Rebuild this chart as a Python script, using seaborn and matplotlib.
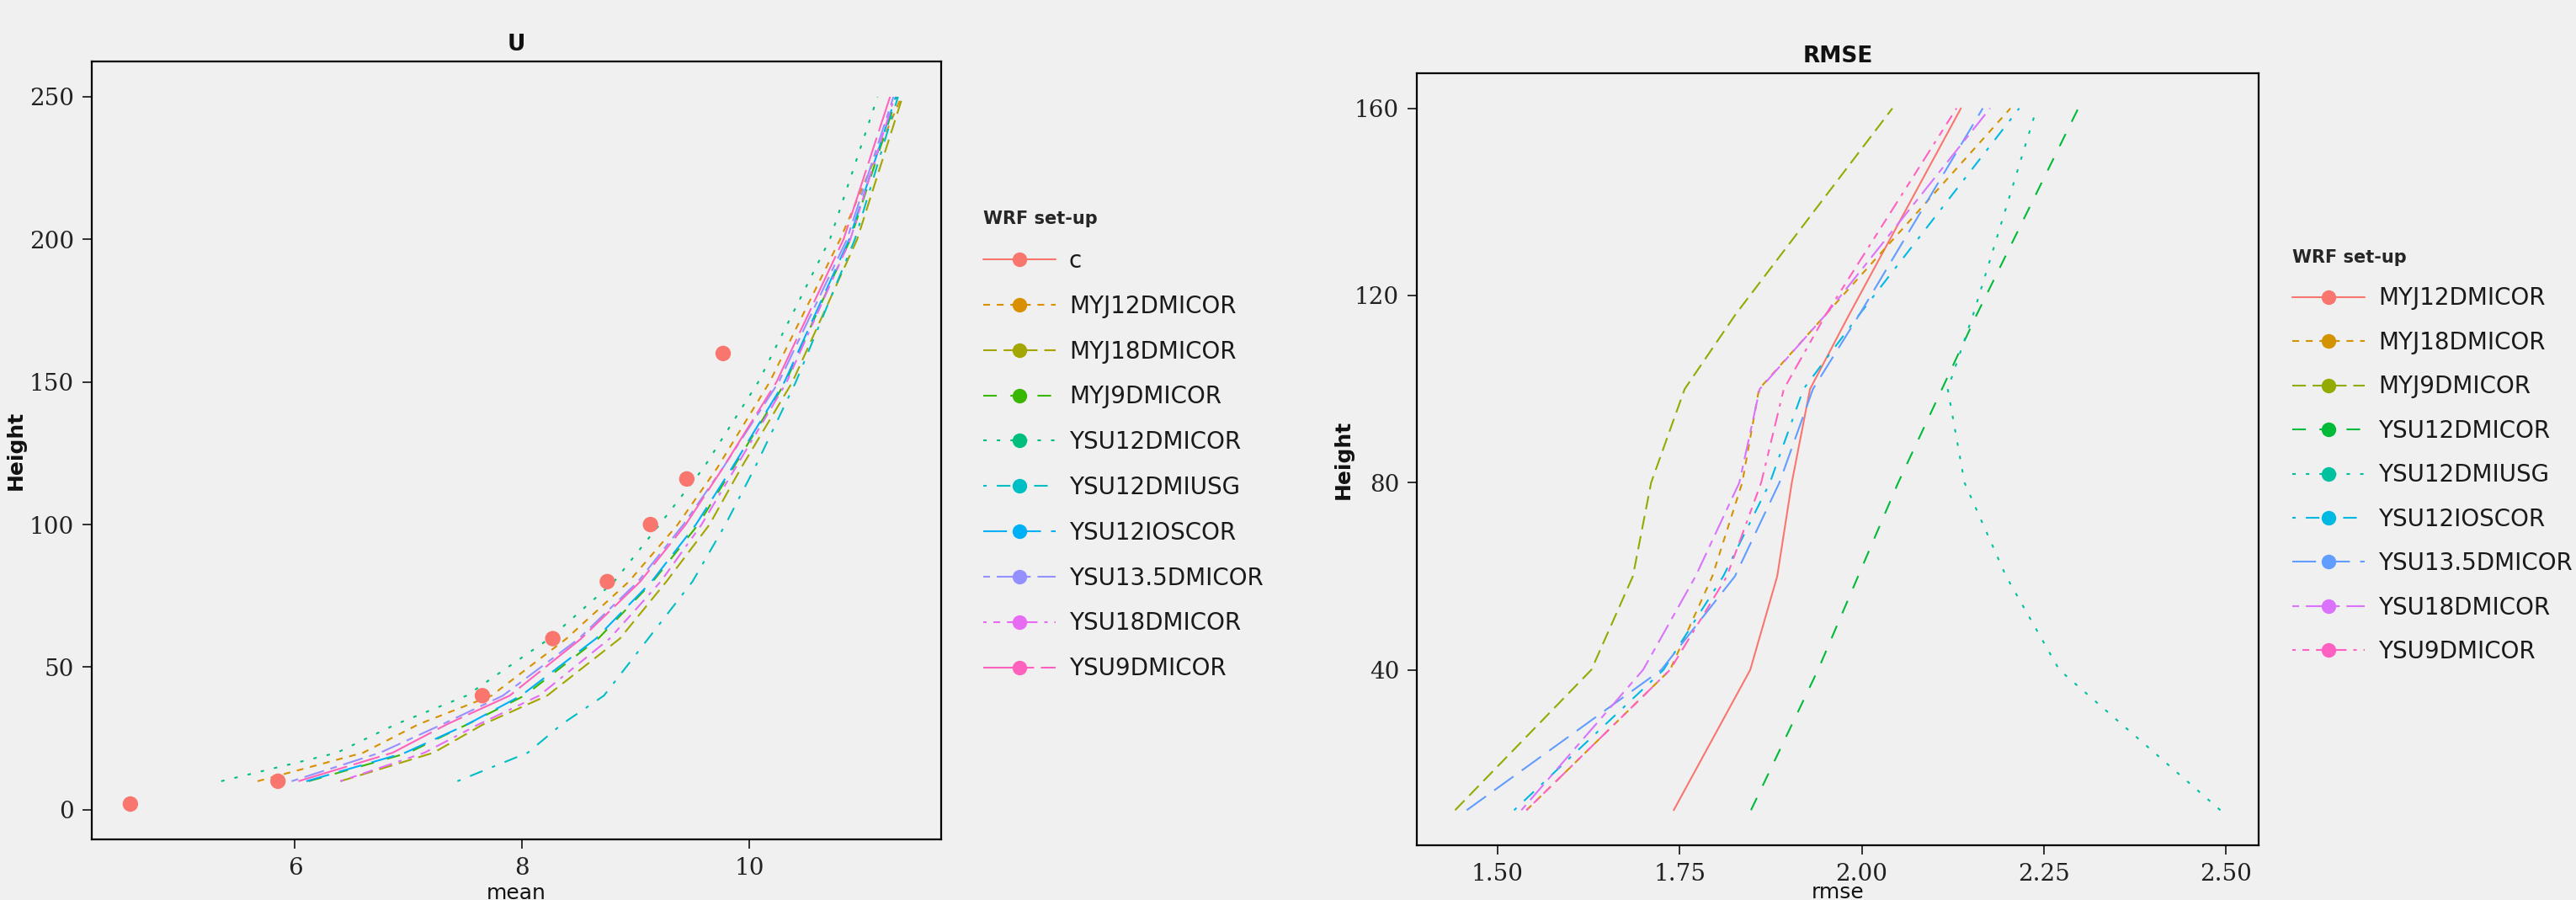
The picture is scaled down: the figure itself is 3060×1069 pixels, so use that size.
import numpy as np
import pandas as pd
import matplotlib
matplotlib.use("Agg")
import matplotlib.pyplot as plt
import seaborn as sns
from matplotlib.lines import Line2D

sns.set_theme(style="ticks")
plt.rcParams["font.family"] = ["DejaVu Sans"]
plt.rcParams["lines.scale_dashes"] = False

BG = "#F0F0F0"

# ---------------- data: panel U ----------------
u_heights = [10, 20, 30, 40, 60, 80, 100, 120, 150, 200, 250]
u_MYJ12DMICOR = [5.67, 6.60, 7.09, 7.73, 8.39, 8.94, 9.37, 9.72, 10.18, 10.80, 11.34]
u_MYJ18DMICOR = [6.40, 7.22, 7.66, 8.22, 8.86, 9.27, 9.65, 9.93, 10.38, 10.95, 11.35]
u_MYJ9DMICOR = [6.12, 7.00, 7.52, 8.02, 8.67, 9.15, 9.55, 9.86, 10.32, 10.89, 11.30]
u_YSU12DMICOR = [5.35, 6.37, 6.89, 7.51, 8.24, 8.81, 9.21, 9.60, 10.08, 10.71, 11.13]
u_YSU12DMIUSG = [7.43, 8.05, 8.35, 8.72, 9.11, 9.50, 9.79, 10.05, 10.41, 10.93, 11.31]
u_YSU12IOSCOR = [6.10, 6.97, 7.52, 7.99, 8.65, 9.14, 9.53, 9.85, 10.31, 10.88, 11.29]
u_YSU135DMICOR = [5.97, 6.75, 7.30, 7.83, 8.50, 9.02, 9.42, 9.77, 10.26, 10.86, 11.27]
u_YSU18DMICOR = [6.40, 7.14, 7.62, 8.15, 8.77, 9.22, 9.58, 9.88, 10.33, 10.89, 11.28]
u_YSU9DMICOR = [6.03, 6.86, 7.34, 7.89, 8.52, 9.04, 9.44, 9.77, 10.24, 10.83, 11.24]

obs_heights = [2, 10, 40, 60, 80, 100, 116, 160]
obs_mean = [4.55, 5.85, 7.65, 8.27, 8.75, 9.13, 9.45, 9.77]

# ---------------- data: panel RMSE ----------------
r_heights = [10, 40, 60, 80, 100, 116, 160]
r_MYJ12DMICOR = [1.742, 1.847, 1.884, 1.904, 1.929, 1.983, 2.136]
r_MYJ18DMICOR = [1.540, 1.737, 1.795, 1.836, 1.859, 1.951, 2.204]
r_MYJ9DMICOR = [1.442, 1.629, 1.686, 1.711, 1.757, 1.827, 2.042]
r_YSU12DMICOR = [1.848, 1.940, 1.995, 2.050, 2.110, 2.158, 2.297]
r_YSU12DMIUSG = [2.492, 2.271, 2.198, 2.141, 2.118, 2.153, 2.240]
r_YSU12IOSCOR = [1.523, 1.728, 1.810, 1.874, 1.920, 1.997, 2.216]
r_YSU135DMICOR = [1.458, 1.725, 1.826, 1.887, 1.933, 1.997, 2.166]
r_YSU18DMICOR = [1.533, 1.700, 1.772, 1.832, 1.860, 1.951, 2.176]
r_YSU9DMICOR = [1.540, 1.737, 1.815, 1.862, 1.893, 1.951, 2.130]

u_labels = ["c", "MYJ12DMICOR", "MYJ18DMICOR", "MYJ9DMICOR", "YSU12DMICOR",
            "YSU12DMIUSG", "YSU12IOSCOR", "YSU13.5DMICOR", "YSU18DMICOR", "YSU9DMICOR"]
r_labels = u_labels[1:]

u_series = [u_MYJ12DMICOR, u_MYJ18DMICOR, u_MYJ9DMICOR, u_YSU12DMICOR, u_YSU12DMIUSG,
            u_YSU12IOSCOR, u_YSU135DMICOR, u_YSU18DMICOR, u_YSU9DMICOR]
r_series = [r_MYJ12DMICOR, r_MYJ18DMICOR, r_MYJ9DMICOR, r_YSU12DMICOR, r_YSU12DMIUSG,
            r_YSU12IOSCOR, r_YSU135DMICOR, r_YSU18DMICOR, r_YSU9DMICOR]

# ggplot default hue palettes
pal10 = ["#F8766D", "#D89000", "#A3A500", "#39B600", "#00BF7D",
         "#00BFC4", "#00B0F6", "#9590FF", "#E76BF3", "#FF62BC"]
pal9 = ["#F8766D", "#D39200", "#93AA00", "#00BA38", "#00C19F",
        "#00B9E3", "#619CFF", "#DB72FB", "#FF61C3"]

# ggplot linetype sequence (hex codes)
lt_codes = ["solid", "22", "42", "44", "13", "1343", "73", "2262", "12223242", "F282"]
UNIT = 2.9  # points per ggplot dash unit


def dash_of(code):
    if code == "solid":
        return ""
    return tuple(int(ch, 16) * UNIT for ch in code)


# long tables
dfU = pd.DataFrame({
    "setup": np.repeat(u_labels[1:], len(u_heights)),
    "Height": np.tile(u_heights, len(u_series)),
    "mean": np.concatenate(u_series),
})
dfR = pd.DataFrame({
    "setup": np.repeat(r_labels, len(r_heights)),
    "Height": np.tile(r_heights, len(r_series)),
    "rmse": np.concatenate(r_series),
})

pal_u = dict(zip(u_labels, pal10))
dash_u = {lab: dash_of(c) for lab, c in zip(u_labels, lt_codes)}
pal_r = dict(zip(r_labels, pal9))
dash_r = {lab: dash_of(c) for lab, c in zip(r_labels, lt_codes)}

W, H = 3060, 1069
fig = plt.figure(figsize=(W / 100, H / 100), dpi=100)
fig.patch.set_facecolor(BG)

ax1 = fig.add_axes([109 / W, 1 - 997 / H, 1009 / W, 924 / H])
ax2 = fig.add_axes([1683 / W, 1 - 1004 / H, 1000 / W, 917 / H])

LW = 1.5
sns.lineplot(data=dfU, x="mean", y="Height", hue="setup", style="setup",
             hue_order=u_labels[1:], style_order=u_labels[1:],
             palette={k: pal_u[k] for k in u_labels[1:]},
             dashes={k: dash_u[k] for k in u_labels[1:]},
             sort=False, estimator=None, errorbar=None, linewidth=LW,
             legend=False, ax=ax1)
sns.scatterplot(x=obs_mean, y=obs_heights, color=pal10[0], s=175,
                edgecolor="none", legend=False, ax=ax1, zorder=5)

sns.lineplot(data=dfR, x="rmse", y="Height", hue="setup", style="setup",
             hue_order=r_labels, style_order=r_labels,
             palette=pal_r, dashes=dash_r,
             sort=False, estimator=None, errorbar=None, linewidth=LW,
             legend=False, ax=ax2)


def expand(lo, hi, f=0.05):
    r = hi - lo
    return lo - f * r, hi + f * r


allU = np.concatenate([np.concatenate(u_series), obs_mean])
ax1.set_xlim(*expand(allU.min(), allU.max()))
ax1.set_ylim(*expand(min(obs_heights + u_heights), max(u_heights)))
allR = np.concatenate(r_series)
ax2.set_xlim(*expand(allR.min(), allR.max()))
ax2.set_ylim(*expand(min(r_heights), max(r_heights)))

ax1.set_xticks([6, 8, 10])
ax1.set_yticks([0, 50, 100, 150, 200, 250])
ax2.set_xticks([1.50, 1.75, 2.00, 2.25, 2.50])
ax2.set_xticklabels(["1.50", "1.75", "2.00", "2.25", "2.50"])
ax2.set_yticks([40, 80, 120, 160])

for ax, title, xl in [(ax1, "U", "mean"), (ax2, "RMSE", "rmse")]:
    ax.set_facecolor(BG)
    for sp in ax.spines.values():
        sp.set_visible(True)
        sp.set_color("black")
        sp.set_linewidth(1.6)
    ax.grid(False)
    ax.tick_params(direction="out", length=8, width=1.3, color="#222222",
                   labelsize=20, labelcolor="#222222", pad=7,
                   bottom=True, left=True)
    for lbl in ax.get_xticklabels() + ax.get_yticklabels():
        lbl.set_fontfamily("DejaVu Serif")
    ax.set_title(title, fontsize=19, fontweight="bold", pad=9, color="#111111")
    ax.set_xlabel(xl, fontsize=18, color="#111111")
    ax.set_ylabel("Height", fontsize=18, fontweight="bold", color="#111111")

ax1.xaxis.set_label_coords(0.5, -0.056)
ax2.xaxis.set_label_coords(0.5, -0.048)
ax1.yaxis.set_label_coords(-0.078, 0.5)
ax2.yaxis.set_label_coords(-0.075, 0.5)


def make_handles(labels, pal, dashes):
    hs = []
    for lab in labels:
        d = dashes[lab]
        ls = "-" if d == "" else (0, d)
        hs.append(Line2D([0], [0], color=pal[lab], lw=LW, linestyle=ls,
                         marker="o", markersize=12.5, markeredgewidth=0))
    return hs


def add_legend(labels, pal, dashes, x, y, spacing):
    leg = fig.legend(make_handles(labels, pal, dashes), labels,
                     loc="upper left", bbox_to_anchor=(x / W, 1 - y / H),
                     bbox_transform=fig.transFigure, frameon=False,
                     fontsize=20, title="WRF set-up",
                     title_fontproperties={"weight": "bold", "size": 15},
                     labelspacing=spacing, handlelength=3.1, handletextpad=0.57,
                     borderpad=0, borderaxespad=0, alignment="left")
    for t in leg.get_texts():
        t.set_color("#1a1a1a")
    return leg


add_legend(u_labels, pal_u, dash_u, 1168, 250, 0.93)
add_legend(r_labels, pal_r, dash_r, 2723, 296, 0.88)

fig.savefig("out.png", dpi=100, facecolor=BG)
